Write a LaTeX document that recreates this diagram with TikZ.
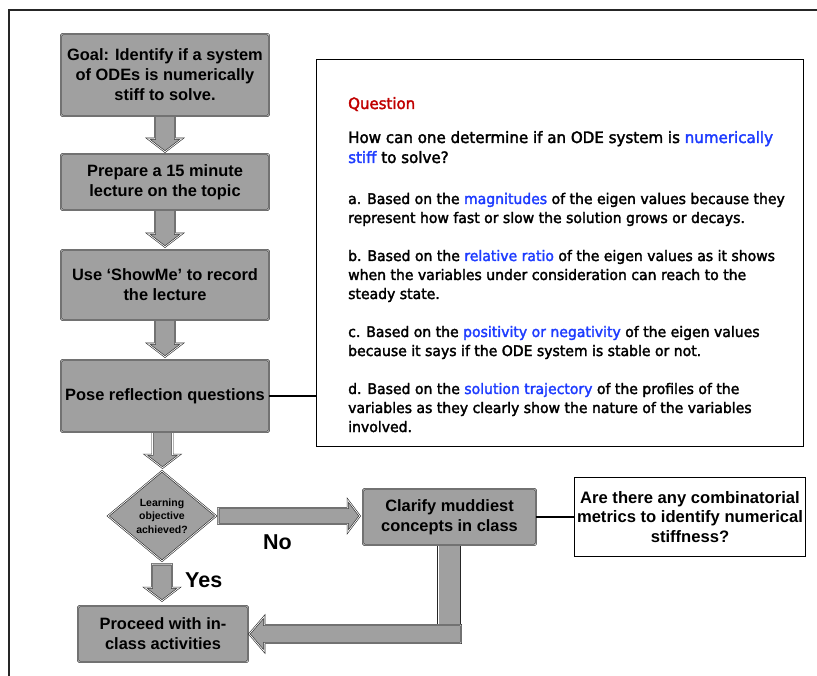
\documentclass[tikz,border=0pt]{standalone}
\usepackage{fontspec}
\setmainfont{Liberation Sans}
\newfontfamily\qfont[FakeStretch=0.96,FakeBold=2.2]{DejaVu Sans}
\usetikzlibrary{calc,shapes.geometric,backgrounds}
\definecolor{boxgray}{RGB}{160,160,160}
\definecolor{qred}{RGB}{192,0,0}
\definecolor{qblue}{RGB}{30,60,255}
\newcommand\hlq[1]{\textcolor{qblue}{#1}}
\newcommand\qsz{\fontsize{14.6}{19}\selectfont}
% vertical fat arrow: start coordinate, tip coordinate
\newcommand\downfat[2]{%
  \draw[fatarr] let \p1=(#1), \p2=(#2) in
   (\x1-10pt,\y1) -- (\x1-10pt,\y2+13pt) -- (\x1-17pt,\y2+13pt) -- (\x1,\y2)
   -- (\x1+17pt,\y2+13pt) -- (\x1+10pt,\y2+13pt) -- (\x1+10pt,\y1) -- cycle;}
\begin{document}
\begin{tikzpicture}[x=1pt,y=-1pt,
  flow/.style={draw=black!85, line width=0.6pt, double=white, double distance=0.7pt,
    fill=boxgray, rounded corners=1.5pt, inner sep=0pt, align=center,
    font=\bfseries\fontsize{16.4}{20}\selectfont},
  fatarr/.style={draw=black!85, line width=0.6pt, double=white, double distance=0.7pt,
    fill=boxgray, line join=miter},
  conn/.style={draw=black, line width=1.3pt},
  qline/.style={anchor=base west, inner sep=0pt, font=\qfont\qsz},
  qbig/.style={qline, font=\qfont\fontsize{15.7}{19}\selectfont},
  lbl/.style={anchor=base west, inner sep=0pt, font=\bfseries\fontsize{21.5}{24}\selectfont}
]
\useasboundingbox (0,0) rectangle (817,676);
% outer frame
\draw[line width=2.2pt, black!85] (9,676) -- (9,10) -- (817,10);

% flow boxes
\node[flow, minimum width=208pt, minimum height=82pt] (goal) at (165,75)
  {Goal: Identify if a system\\of ODEs is numerically\\stiff to solve.};
\node[flow, minimum width=208pt, minimum height=56pt] (prep) at (165,182)
  {Prepare a 15 minute\\lecture on the topic};
\node[flow, minimum width=208pt, minimum height=70pt] (use) at (165,285)
  {Use ‘ShowMe’ to record\\the lecture};
\node[flow, minimum width=208pt, minimum height=72pt] (pose) at (165,396)
  {Pose reflection questions};
\node[flow, diamond, rounded corners=0pt, aspect=1.2, minimum width=108pt, minimum height=90pt,
  font=\bfseries\fontsize{10.5}{13.5}\selectfont] (dec) at (162,516)
  {Learning\\objective\\achieved?};
\node[flow, minimum width=170pt, minimum height=56pt] (proc) at (163,634)
  {Proceed with in-\\class activities};
\node[flow, minimum width=173pt, minimum height=56pt] (clar) at (449.5,517)
  {Clarify muddiest\\concepts in class};
\node[draw=black, line width=1.1pt, fill=white, minimum width=231pt, minimum height=79pt,
  inner sep=0pt, align=center, font=\bfseries\fontsize{16.6}{19.5}\selectfont] (are) at (690,517)
  {Are there any combinatorial\\metrics to identify numerical\\stiffness?};

% question box
\node[draw=black, line width=1.3pt, minimum width=487pt, minimum height=387pt, inner sep=0pt] (qbox) at (560,253) {};
\node[qline, font=\qfont\fontsize{15.6}{19}\selectfont, text=qred] (q0) at (348,109) {Question};
\node[qbig] (q1) at (348,143) {How can one determine if an ODE system is \hlq{numerically}};
\node[qbig] (q2) at (348,163) {\hlq{stiff} to solve?};
\node[qline] (qa1) at (348,204) {a. Based on the \hlq{magnitudes} of the eigen values because they};
\node[qline] (qa2) at (348,223) {represent how fast or slow the solution grows or decays.};
\node[qline] (qb1) at (348,261) {b. Based on the \hlq{relative ratio} of the eigen values as it shows};
\node[qline] (qb2) at (348,280) {when the variables under consideration can reach to the};
\node[qline] (qb3) at (348,299) {steady state.};
\node[qline] (qc1) at (348,337) {c. Based on the \hlq{positivity or negativity} of the eigen values};
\node[qline] (qc2) at (348,356) {because it says if the ODE system is stable or not.};
\node[qline] (qd1) at (348,394) {d. Based on the \hlq{solution trajectory} of the profiles of the};
\node[qline] (qd2) at (348,413) {variables as they clearly show the nature of the variables};
\node[qline] (qd3) at (348,432) {involved.};

% labels
\node[lbl] (yes) at (185,587) {Yes};
\node[lbl] (no) at (263,549) {No};

% connectors
\draw[conn] (pose.east) -- (qbox.west |- pose.east);
\draw[conn] (clar.east) -- (are.west |- clar.east);

% fat arrows
\begin{scope}[on background layer]
\downfat{$(goal.south)+(0,-2)$}{$(prep.north)+(0,-2)$}
\downfat{$(prep.south)+(0,-2)$}{$(use.north)+(0,-3)$}
\downfat{$(use.south)+(0,-2)$}{$(pose.north)+(0,-3)$}
\downfat{$(pose.south)+(-2.5,-2)$}{$(dec.north)+(0,-3)$}
\end{scope}
\downfat{$(dec.south)+(0,3)$}{$(proc.north)+(0,-5)$}
% No arrow
\draw[fatarr] let \p1=(dec.east), \p2=(clar.west) in
  (\x1+2pt,\y1+8pt) -- (\x2-15pt,\y1+8pt) -- (\x2-15pt,\y1+16pt) -- (\x2-3pt,\y1)
  -- (\x2-15pt,\y1-16pt) -- (\x2-15pt,\y1-8pt) -- (\x1+2pt,\y1-8pt) -- cycle;
% return arrow
\begin{scope}[on background layer]
\draw[fatarr] let \p1=(clar.south), \p2=(proc.east) in
  (\x1-11.5pt,\y1+2pt) rectangle (\x1+11.5pt,\y2+9pt);
\end{scope}
\draw[fatarr] let \p1=(clar.south), \p2=(proc.east) in
  (\x1+11.5pt,\y2+9pt) -- (\x2+16pt,\y2+9pt) -- (\x2+16pt,\y2+17.5pt) -- (\x2+1pt,\y2)
  -- (\x2+16pt,\y2-17.5pt) -- (\x2+16pt,\y2-9pt) -- (\x1+11.5pt,\y2-9pt) -- cycle;
\end{tikzpicture}
\end{document}
